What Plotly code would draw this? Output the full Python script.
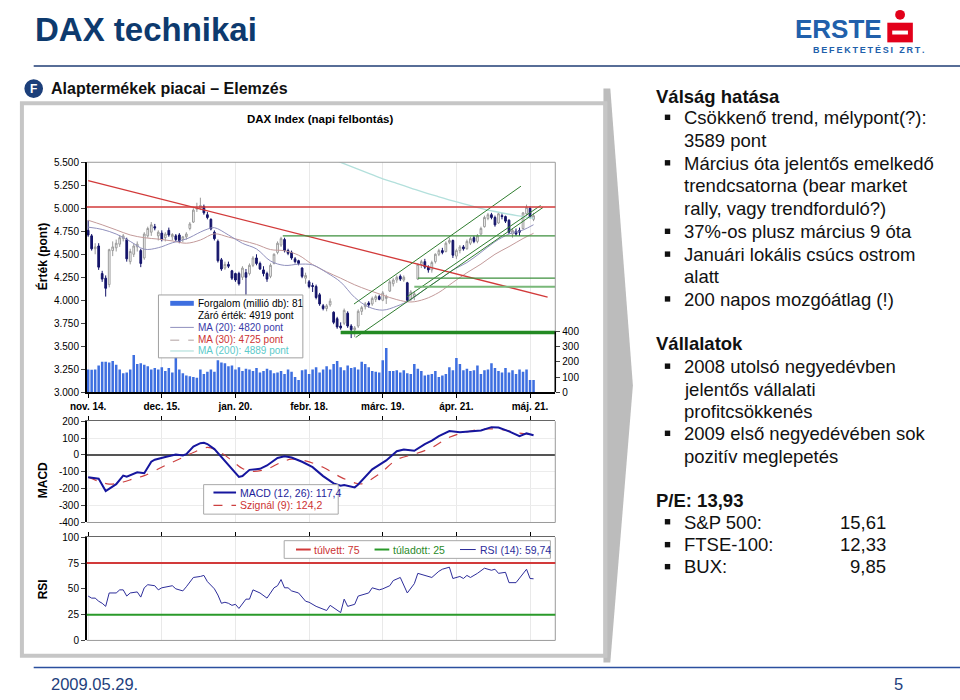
import plotly.graph_objects as go

W, H = 960, 700
def fx(x): return x / W
def fy(y): return 1 - y / H

FONT = "Liberation Sans, Arial, Helvetica, sans-serif"

# ---------------- data ----------------
tick_days = [0, 21, 42, 63, 84, 105, 126]
tick_labels = ["nov. 14.", "dec. 15.", "jan. 20.", "febr. 18.", "márc. 19.", "ápr. 21.", "máj. 21."]

price_ticks = [3000, 3250, 3500, 3750, 4000, 4250, 4500, 4750, 5000, 5250, 5500]
price_tick_text = ["3.000", "3.250", "3.500", "3.750", "4.000", "4.250", "4.500", "4.750", "5.000", "5.250", "5.500"]
volume_ticks = [0, 100, 200, 300, 400]
macd_ticks = [-400, -300, -200, -100, 0, 100, 200]
macd_tick_text = ["-400", "-300", "-200", "-100", "0", "100", "200"]
rsi_ticks = [0, 25, 50, 75, 100]

day = list(range(128))
open_ = [4760, 4700, 4560, 4590, 4290, 4240, 4170, 4540, 4570, 4610, 4670, 4660, 4420, 4500, 4580, 4540, 4460, 4700, 4740, 4800,
         4700, 4730, 4680, 4760, 4690, 4700, 4710, 4660, 4690, 4780, 4850, 4990, 5000, 5020, 4930, 4880, 4740, 4640, 4440, 4350,
         4390, 4320, 4290, 4290, 4250, 4300, 4290, 4380, 4460, 4400, 4330, 4290, 4260, 4400, 4520, 4600, 4660, 4540, 4520, 4450,
         4430, 4350, 4240, 4200, 4160, 4150, 4060, 3940, 3910, 3950, 3870, 3800, 3720, 3750, 3860, 3720, 3680, 3720, 3880, 3930,
         3970, 3960, 4010, 4040, 4000, 4020, 4100, 4180, 4220, 4260, 4220, 4190, 4010, 4040, 4230, 4390, 4420, 4360, 4330, 4420,
         4500, 4540, 4530, 4630, 4650, 4480, 4540, 4580, 4560, 4620, 4680, 4640, 4720, 4800, 4890, 4930, 4900, 4840, 4920, 4910,
         4870, 4720, 4750, 4760, 4780, 4940, 5000, 4880]
high = [4870, 4720, 4620, 4620, 4320, 4270, 4560, 4640, 4660, 4710, 4720, 4680, 4560, 4620, 4640, 4560, 4740, 4800, 4850, 4830,
        4760, 4760, 4740, 4790, 4730, 4720, 4730, 4700, 4740, 4850, 5000, 5060, 5115, 5040, 4960, 4890, 4760, 4660, 4460, 4420,
        4420, 4330, 4300, 4310, 4370, 4340, 4400, 4480, 4500, 4420, 4370, 4310, 4400, 4510, 4640, 4690, 4680, 4560, 4540, 4470,
        4440, 4360, 4300, 4220, 4190, 4170, 4080, 3960, 3960, 4020, 3880, 3820, 3760, 3910, 3880, 3740, 3720, 3900, 3940, 3980,
        3990, 4040, 4060, 4060, 4100, 4060, 4220, 4240, 4270, 4280, 4270, 4200, 4110, 4100, 4400, 4440, 4450, 4380, 4430, 4510,
        4560, 4570, 4640, 4680, 4660, 4560, 4600, 4600, 4660, 4690, 4700, 4720, 4800, 4920, 4950, 4950, 4920, 4960, 4950, 4920,
        4880, 4780, 4780, 4790, 4960, 5040, 5020, 4950]
low = [4690, 4540, 4500, 4330, 4200, 4040, 4140, 4480, 4530, 4580, 4640, 4420, 4390, 4470, 4530, 4360, 4440, 4680, 4700, 4760,
       4650, 4640, 4640, 4690, 4650, 4640, 4620, 4630, 4660, 4760, 4840, 4960, 4980, 4930, 4880, 4760, 4650, 4410, 4320, 4330,
       4350, 4220, 4200, 4160, 4220, 4060, 4270, 4360, 4380, 4330, 4260, 4200, 4240, 4390, 4500, 4580, 4520, 4490, 4440, 4400,
       4380, 4240, 4180, 4130, 4090, 4010, 3940, 3890, 3880, 3930, 3740, 3690, 3680, 3730, 3700, 3589, 3600, 3700, 3840, 3900,
       3920, 3940, 3980, 4000, 3990, 3960, 4090, 4150, 4190, 4210, 4200, 3980, 3990, 4000, 4220, 4350, 4340, 4300, 4300, 4400,
       4480, 4500, 4520, 4610, 4460, 4450, 4510, 4540, 4550, 4600, 4620, 4620, 4710, 4790, 4870, 4880, 4800, 4830, 4880, 4840,
       4720, 4680, 4700, 4700, 4770, 4920, 4890, 4860]
close = [4710, 4560, 4580, 4360, 4230, 4130, 4550, 4580, 4620, 4680, 4700, 4450, 4530, 4590, 4610, 4400, 4720, 4780, 4820, 4785,
         4740, 4660, 4720, 4710, 4715, 4660, 4640, 4690, 4720, 4830, 4980, 5010, 5030, 4950, 4900, 4775, 4670, 4430, 4340, 4390,
         4370, 4240, 4220, 4180, 4350, 4250, 4380, 4460, 4400, 4340, 4290, 4230, 4380, 4500, 4620, 4670, 4540, 4510, 4460, 4420,
         4400, 4260, 4270, 4150, 4150, 4030, 3960, 3910, 3940, 3990, 3760, 3710, 3700, 3890, 3720, 3680, 3700, 3880, 3920, 3960,
         3950, 4020, 4040, 4010, 4080, 4040, 4200, 4220, 4250, 4230, 4250, 4000, 4090, 4070, 4390, 4420, 4360, 4330, 4410, 4500,
         4540, 4520, 4620, 4650, 4490, 4540, 4580, 4560, 4640, 4670, 4640, 4700, 4780, 4900, 4930, 4900, 4820, 4940, 4910, 4860,
         4740, 4760, 4720, 4740, 4950, 5010, 4900, 4919]
volume = [150, 148, 150, 175, 200, 200, 195, 205, 180, 150, 125, 130, 150, 245, 185, 190, 180, 170, 150, 160,
          150, 165, 140, 160, 130, 230, 150, 125, 110, 105, 100, 95, 150, 120, 135, 150, 135, 210, 195, 190,
          170, 175, 150, 165, 140, 155, 150, 140, 160, 130, 140, 155, 145, 125, 130, 140, 120, 150, 135, 100,
          80, 145, 150, 120, 150, 165, 130, 150, 170, 150, 185, 205, 165, 145, 175, 160, 165, 150, 200, 185,
          165, 140, 135, 130, 210, 290, 140, 140, 145, 130, 145, 125, 120, 185, 155, 140, 110, 115, 120, 140,
          100, 110, 120, 165, 145, 225, 185, 145, 155, 140, 145, 175, 120, 145, 150, 190, 160, 140, 130, 160,
          130, 145, 120, 150, 135, 150, 80, 80]

ma20_day = [0, 4, 8, 12, 16, 20, 24, 28, 32, 34, 36, 40, 44, 48, 52, 56, 60, 64, 68, 72, 76, 80, 84, 88, 92, 96, 100, 104, 108, 112, 116, 120, 124, 127]
ma20 = [4795, 4770, 4720, 4640, 4555, 4571, 4625, 4666, 4741, 4773, 4789, 4710, 4619, 4558, 4427, 4379, 4392, 4384, 4301, 4198, 4031, 3927, 3893, 3936, 4007, 4119, 4223, 4329, 4410, 4521, 4636, 4720, 4764, 4821]
ma30_day = [0, 4, 8, 12, 16, 20, 24, 28, 32, 36, 40, 44, 48, 52, 56, 60, 64, 68, 72, 76, 80, 84, 88, 92, 96, 100, 104, 108, 112, 116, 120, 124, 127]
ma30 = [4870, 4820, 4765, 4710, 4680, 4665, 4645, 4620, 4655, 4722, 4687, 4648, 4607, 4551, 4538, 4490, 4388, 4309, 4240, 4168, 4109, 4056, 4007, 3981, 4013, 4085, 4194, 4299, 4393, 4500, 4583, 4671, 4728]
ma200_day = [60, 64, 68, 72, 76, 80, 84, 88, 92, 96, 100, 104, 108, 112, 116, 120, 124, 127]
ma200 = [5700, 5620, 5560, 5500, 5440, 5380, 5320, 5270, 5220, 5170, 5125, 5080, 5040, 5000, 4965, 4935, 4910, 4889]

# analyst drawn lines (start/end day, start/end level)
trend_down_day = [0, 131]
trend_down_val = [5300, 4035]
chan_up_day = [75.8, 123.4]
chan_up_val = [3959, 5240]
chan_lo_day = [76.3, 129.7]
chan_lo_val = [3596, 5009]
chan_lo2_day = [91, 129]
chan_lo2_val = [4040, 5030]
resist_red = 5015
green_levels = [(55.5, 4700), (94, 4240)]
green_light_level = (93, 4147)
support_level = (72, 3650)

macd_day = [0, 3, 5, 8, 10, 11, 14, 16, 18, 19, 22, 25, 27, 28, 30, 32, 33, 34, 36, 38, 41, 43, 44, 46, 49, 51, 54, 56, 58, 61,
            64, 67, 70, 72, 73, 76, 77, 81, 85, 88, 90, 93, 96, 98, 100, 103, 106, 109, 112, 115, 117, 120, 123, 125, 127]
macd = [-132, -141, -214, -173, -122, -128, -102, -108, -40, -28, -12, 3, -3, 5, 50, 70, 72, 65, 35, -12, -80, -130, -125, -88, -82, -62, -18, -8, -15, -40,
        -72, -125, -168, -182, -178, -192, -175, -85, -32, 22, 32, 25, 65, 85, 112, 142, 135, 139, 145, 165, 163, 140, 112, 128, 117.4]
signal_day = [0, 6, 10, 13, 16, 22, 27, 30, 34, 37, 41, 44, 47, 51, 55, 58, 62, 67, 72, 76, 78, 83, 88, 93, 98, 103, 109, 114, 118, 123, 127]
signal = [-132, -172, -160, -140, -122, -62, -15, 15, 45, 25, -33, -80, -97, -83, -44, -25, -35, -73, -131, -165, -171, -113, -28, 5, 44, 105, 142, 155, 150, 130, 124.2]

rsi_day = [0, 1, 2, 3, 4, 5, 6, 8, 9, 10, 11, 12, 14, 15, 16, 17, 19, 20, 21, 23, 24, 25, 27, 28, 30, 32, 33, 34, 36, 37,
           38, 39, 40, 41, 42, 43, 45, 46, 47, 49, 51, 53, 54, 55, 56, 57, 58, 60, 62, 63, 65, 68, 69, 72, 73, 74, 76, 77, 80, 81,
           83, 84, 86, 87, 89, 91, 93, 94, 96, 98, 100, 101, 103, 104, 106, 107, 108, 109, 111, 113, 115, 116, 117, 119, 120, 122, 125, 126, 127]
rsi = [43, 41, 41, 38, 36, 33, 46, 46, 49, 49, 43, 46, 47, 42, 51, 54, 53, 49, 51, 52, 53, 50, 48, 52, 61, 62, 63, 57, 50, 44,
       36, 37, 36, 34, 35, 31, 40, 40, 49, 46, 41, 51, 53, 59, 51, 51, 48, 46, 38, 37, 33, 29, 34, 27, 40, 33, 35, 43, 46, 51,
       49, 50, 53, 58, 61, 46, 55, 65, 63, 61, 67, 69, 71, 60, 62, 60, 63, 61, 65, 70, 68, 69, 65, 66, 56, 56, 69, 60, 59.74]
overbought = 75
oversold = 25

# ---------------- figure ----------------
XR = [-0.4, 133.2]
XD = [fx(71), fx(548)]

fig = go.Figure()

fig.add_trace(go.Bar(x=day, y=volume, marker=dict(color="#3e6fe0", line=dict(width=0)),
                     xaxis="x", yaxis="y2", hoverinfo="skip"))

fig.add_trace(go.Scatter(x=ma200_day, y=ma200, mode="lines", line=dict(color="#b3e0dc", width=1.3, shape="spline"),
                         xaxis="x", yaxis="y"))
fig.add_trace(go.Scatter(x=ma30_day, y=ma30, mode="lines", line=dict(color="#c39a9a", width=1, shape="spline"),
                         xaxis="x", yaxis="y"))
fig.add_trace(go.Scatter(x=ma20_day, y=ma20, mode="lines", line=dict(color="#9090bd", width=1, shape="spline"),
                         xaxis="x", yaxis="y"))

fig.add_trace(go.Candlestick(x=day, open=open_, high=high, low=low, close=close,
                             increasing=dict(line=dict(color="#9a9a9a", width=1), fillcolor="#ffffff"),
                             decreasing=dict(line=dict(color="#14146a", width=1), fillcolor="#14146a"),
                             whiskerwidth=0, xaxis="x", yaxis="y", hoverinfo="skip"))

RED = "#d23a3a"
DKGREEN = "#2f7d2f"
fig.add_trace(go.Scatter(x=trend_down_day, y=trend_down_val, mode="lines", line=dict(color=RED, width=1.3)))
for dx, dv in [(chan_up_day, chan_up_val), (chan_lo_day, chan_lo_val), (chan_lo2_day, chan_lo2_val)]:
    fig.add_trace(go.Scatter(x=dx, y=dv, mode="lines", line=dict(color=DKGREEN, width=1)))
for start, lvl in green_levels:
    fig.add_trace(go.Scatter(x=[start, XR[1]], y=[lvl, lvl], mode="lines", line=dict(color="#3c8f3c", width=1.2)))
fig.add_trace(go.Scatter(x=[green_light_level[0], XR[1]], y=[green_light_level[1]] * 2, mode="lines",
                         line=dict(color="#79b879", width=2)))
fig.add_trace(go.Scatter(x=[support_level[0], XR[1]], y=[support_level[1]] * 2, mode="lines",
                         line=dict(color="#238a23", width=3.5)))

# MACD
fig.add_trace(go.Scatter(x=signal_day, y=signal, mode="lines", line=dict(color="#cc4040", width=1.2, dash="dash", shape="spline"),
                         xaxis="x2", yaxis="y3"))
fig.add_trace(go.Scatter(x=macd_day, y=macd, mode="lines", line=dict(color="#16169e", width=2),
                         xaxis="x2", yaxis="y3"))
# RSI
fig.add_trace(go.Scatter(x=rsi_day, y=rsi, mode="lines", line=dict(color="#2d2d9a", width=1),
                         xaxis="x3", yaxis="y4"))

axis_common = dict(range=XR, tickvals=tick_days, ticks="outside", ticklen=4, tickcolor="#000",
                   showgrid=True, gridcolor="#e9e9e9", gridwidth=1, zeroline=False)

fig.update_layout(
    width=W, height=H, autosize=False, margin=dict(l=0, r=0, t=0, b=0),
    paper_bgcolor="white", plot_bgcolor="white", showlegend=False, hovermode=False,
    font=dict(family=FONT, size=10, color="#000"),
    bargap=0.28,
    xaxis=dict(domain=XD, anchor="y", ticktext=tick_labels, showline=True, linecolor="#000", linewidth=1.5,
               tickfont=dict(size=10, weight="bold"), rangeslider=dict(visible=False), **axis_common),
    yaxis=dict(domain=[fy(393), fy(159)], anchor="x", range=[3000, 5500], tickvals=price_ticks, ticktext=price_tick_text,
               ticks="outside", ticklen=4, showline=True, linecolor="#000", linewidth=1.5, showgrid=False, zeroline=False,
               tickfont=dict(size=10)),
    yaxis2=dict(overlaying="y", anchor="x", side="right", range=[0, 1510], tickvals=volume_ticks,
                ticks="outside", ticklen=4, showline=False, showgrid=False, zeroline=False, tickfont=dict(size=10)),
    xaxis2=dict(domain=XD, anchor="y3", side="top", showticklabels=False, showline=True, linecolor="#666", linewidth=1.2,
                **axis_common),
    yaxis3=dict(domain=[fy(525.5), fy(422.5)], anchor="x2", range=[-400, 200], tickvals=macd_ticks, ticktext=macd_tick_text,
                ticks="outside", ticklen=4, showline=True, linecolor="#000", linewidth=1.5, showgrid=True,
                gridcolor="#ececec", zeroline=True, zerolinecolor="#555", zerolinewidth=1.5, tickfont=dict(size=10)),
    xaxis3=dict(domain=XD, anchor="y4", side="top", showticklabels=False, showline=True, linecolor="#666", linewidth=1.2,
                **axis_common),
    yaxis4=dict(domain=[fy(645.5), fy(540.5)], anchor="x3", range=[0, 100], tickvals=rsi_ticks,
                ticks="outside", ticklen=4, showline=True, linecolor="#000", linewidth=1.5, showgrid=False,
                zeroline=False, tickfont=dict(size=10)),
)

shapes = []
def line(x0, y0, x1, y1, color, width=1, dash=None):
    d = dict(type="line", xref="paper", yref="paper", x0=fx(x0), y0=fy(y0), x1=fx(x1), y1=fy(y1),
             line=dict(color=color, width=width))
    if dash:
        d["line"]["dash"] = dash
    shapes.append(d)
def rect(x0, y0, x1, y1, fill=None, color=None, width=1):
    shapes.append(dict(type="rect", xref="paper", yref="paper", x0=fx(x0), y0=fy(y0), x1=fx(x1), y1=fy(y1),
                       fillcolor=fill if fill else "rgba(0,0,0,0)",
                       line=dict(color=color if color else "rgba(0,0,0,0)", width=width)))

# chevron
shapes.append(dict(type="path", xref="paper", yref="paper",
                   path=f"M {fx(597)},{fy(84)} L {fx(604)},{fy(84)} L {fx(627)},{fy(386)} L {fx(604)},{fy(668)} L {fx(597)},{fy(668)} Z",
                   fillcolor="#bcbcbc", line=dict(width=0)))
# chart frame
rect(5, 99, 599, 661, color="#c6c6c6", width=4)
# header / footer lines
line(17, 61, 960, 61, "#1f3c74", 1.5)
line(17, 673, 960, 673, "#2b4f9e", 1.5)
# F badge
shapes.append(dict(type="circle", xref="paper", yref="paper", x0=fx(7.5), y0=fy(93.5), x1=fx(26.5), y1=fy(74.5),
                   fillcolor="#1c3f7a", line=dict(width=0)))
# logo symbol
shapes.append(dict(type="circle", xref="paper", yref="paper", x0=fx(894), y0=fy(14), x1=fx(904), y1=fy(4),
                   fillcolor="#e2001a", line=dict(width=0)))
rect(886, 17, 912, 37, fill="#e2001a")
rect(891, 25, 907, 29, fill="#ffffff")

# price panel borders
line(71, 159, 548, 159, "#9a9a9a", 1)
line(548, 159, 548, 393, "#9a9a9a", 1)
shapes.append(dict(type="line", xref="paper", yref="y2", x0=fx(548), x1=fx(548), y0=0, y1=400,
                   line=dict(color="#000", width=1.5)))
shapes.append(dict(type="line", xref="x domain", yref="y", x0=0, x1=1, y0=resist_red, y1=resist_red,
                   line=dict(color=RED, width=1.5)))
# MACD & RSI borders
line(548, 422.5, 548, 525.5, "#9a9a9a", 1)
line(71, 525.5, 548, 525.5, "#9a9a9a", 1)
line(548, 540.5, 548, 645.5, "#9a9a9a", 1)
line(71, 645.5, 548, 645.5, "#9a9a9a", 1)
shapes.append(dict(type="line", xref="x3 domain", yref="y4", x0=0, x1=1, y0=overbought, y1=overbought,
                   line=dict(color="#d23a3a", width=2)))
shapes.append(dict(type="line", xref="x3 domain", yref="y4", x0=0, x1=1, y0=oversold, y1=oversold,
                   line=dict(color="#2a9a2a", width=2)))

# legend boxes
rect(144, 294, 291, 358, fill="#ffffff", color="#a0a0a0")
rect(156, 300, 180, 305, fill="#3e6fe0")
line(156, 327, 180, 327, "#9090bd", 1)
line(156, 340, 180, 340, "#b0a0a0", 1, "dash")
line(156, 351, 180, 351, "#b3e0dc", 1.2)

rect(190, 487, 327, 517, fill="#ffffff", color="#a8a8a8")
line(200, 495, 223, 495, "#16169e", 2)
line(200, 508, 223, 508, "#cc4040", 1.2, "dash")

rect(272, 544, 543, 562, fill="#ffffff", color="#a8a8a8")
line(284, 553, 299, 553, "#d23a3a", 2)
line(364, 553, 379, 553, "#2a9a2a", 2)
line(451, 553, 467, 553, "#2d2d9a", 1)

# bullets on right
for yy in [113.5, 159.8, 229.5, 252.7, 298.3, 366.7, 435, 525, 548.3, 570.7]:
    rect(659.5, yy - 3, 665, yy + 2.5, fill="#111111")

fig.update_layout(shapes=shapes)

anns = []
def txt(x, y, s, size=10, color="#000", bold=False, xa="left", ya="middle", angle=0, family=FONT):
    anns.append(dict(x=fx(x), y=fy(y), xref="paper", yref="paper", text=s, showarrow=False,
                     xanchor=xa, yanchor=ya, textangle=angle,
                     font=dict(size=size, color=color, family=family, weight="bold" if bold else "normal")))

txt(16, 24, "DAX technikai", 33, "#0d3a6e", True)
txt(17, 84.5, "F", 12, "#ffffff", True, xa="center")
txt(33, 84, "Alaptermékek piacai – Elemzés", 16, "#111", True)
txt(883, 23.5, "ERSTE", 26, "#2160ab", True, xa="right",
    family="Liberation Sans Narrow, Arial Narrow, Liberation Sans, Arial, sans-serif")
txt(808, 45, "B\u2009E\u2009F\u2009E\u2009K\u2009T\u2009E\u2009T\u2009É\u2009S\u2009I\u2009 \u2009Z\u2009R\u2009T\u2009.", 9, "#2160ab", True)

txt(308, 115, "DAX Index (napi felbontás)", 11.5, "#000", True, xa="center")
txt(26, 255, "Érték (pont)", 12, "#000", True, xa="center", angle=-90)
txt(26, 483, "MACD", 12, "#000", True, xa="center", angle=-90)
txt(26, 594, "RSI", 12, "#000", True, xa="center", angle=-90)

txt(182, 302.5, "Forgalom (millió db): 81", 10, "#000")
txt(182, 314.5, "Záró érték: 4919 pont", 10, "#000")
txt(182, 327, "MA (20): 4820 pont", 10, "#3a3aa8")
txt(182, 339.5, "MA (30): 4725 pont", 10, "#cc3333")
txt(182, 351, "MA (200): 4889 pont", 10, "#5ccaca")

txt(225, 495, "MACD (12, 26): 117,4", 10.5, "#1e1e9a")
txt(225, 508, "Szignál (9): 124,2", 10.5, "#cc3333")

txt(300, 553, "túlvett: 75", 10.5, "#cc3333")
txt(381, 553, "túladott: 25", 10.5, "#2a8a2a")
txt(469, 553, "RSI (14): 59,74", 10.5, "#2d2d9a")

RS = 18.5
txt(648, 91.7, "Válság hatása", RS, "#111", True)
right_lines = [(113.5, "Csökkenő trend, mélypont(?):"), (136.7, "3589 pont"), (159.8, "Március óta jelentős emelkedő"),
               (183.0, "trendcsatorna (bear market"), (206.3, "rally, vagy trendforduló?)"),
               (229.5, "37%-os plusz március 9 óta"), (252.7, "Januári lokális csúcs ostrom"), (275.5, "alatt"),
               (298.3, "200 napos mozgóátlag (!)")]
for yy, s in right_lines:
    txt(677, yy, s, RS, "#111")
txt(648, 343.3, "Vállalatok", RS, "#111", True)
for yy, s in [(366.7, "2008 utolsó negyedévben"), (390, "jelentős vállalati"), (412.7, "profitcsökkenés"),
              (435, "2009 első negyedévében sok"), (458.3, "pozitív meglepetés")]:
    txt(677, yy, s, RS, "#111")
txt(648, 502.7, "P/E: 13,93", RS, "#111", True)
for yy, name, val in [(525, "S&amp;P 500:", "15,61"), (548.3, "FTSE-100:", "12,33"), (570.7, "BUX:", "9,85")]:
    txt(677, yy, name, RS, "#111")
    txt(887, yy, val, RS, "#111", xa="right")

txt(33, 690, "2009.05.29.", 16.5, "#233f7d")
txt(897, 690, "5", 16.5, "#233f7d", xa="center")

fig.update_layout(annotations=anns)

fig.write_html("out.html")
